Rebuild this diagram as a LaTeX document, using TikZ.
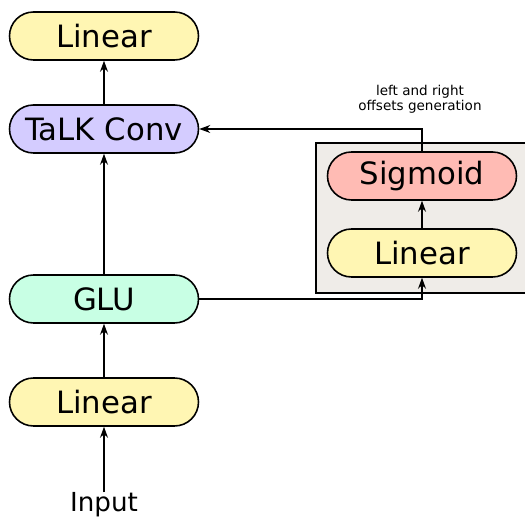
\documentclass[tikz,border=0pt]{standalone}
\usepackage{fontspec}
\setmainfont{DejaVu Sans}
\usetikzlibrary{arrows.meta,shapes.misc}
\definecolor{linyellow}{RGB}{255,246,179}
\definecolor{convpurple}{RGB}{212,204,255}
\definecolor{glugreen}{RGB}{200,255,228}
\definecolor{sigpink}{RGB}{255,187,180}
\definecolor{boxgray}{RGB}{239,236,232}

\begin{document}
\begin{tikzpicture}[every node/.style={inner sep=0pt},
    layer/.style={draw=black,line width=0.9pt,rounded rectangle,minimum width=3.78cm,minimum height=0.96cm,font=\fontsize{17.5}{20}\selectfont},
    flow/.style={line width=0.6pt,-{Stealth[length=2.2mm,width=1.6mm]}}]
            \useasboundingbox (0,0) rectangle (10.5,10.42);
            \fill[boxgray,draw=black,line width=0.6pt] (6.32,4.56) rectangle (10.6,7.56);

            \node[layer,fill=linyellow] (out) at (2.08,9.70) {Linear};
            \node[layer,fill=convpurple] (talk) at (2.08,7.84) {TaLK Conv};
            \node[layer,fill=glugreen] (glu) at (2.08,4.44) {GLU};
            \node[layer,fill=linyellow] (lin) at (2.08,2.38) {Linear};
            \node[font=\fontsize{14.9}{18}\selectfont] (in) at (2.08,0.32) {Input};
            \node[layer,fill=sigpink] (sig) at (8.44,6.90) {Sigmoid};
            \node[layer,fill=linyellow] (offlin) at (8.44,5.36) {Linear};
            \node[font=\fontsize{7.7}{8.5}\selectfont,align=center] (note) at (8.40,8.43) {left and right\\offsets generation};

            \coordinate (gluturn) at (8.44,4.44);
            \coordinate (sigturn) at (8.44,7.84);

            \path [flow] (in.north) edge (lin.south);
            \path [flow] (lin.north) edge (glu.south);
            \path [flow] (glu.north) edge (talk.south);
            \path [flow] (talk.north) edge (out.south);
            \path [flow] (offlin.north) edge (sig.south);
            \draw [flow] (glu.east) -- (gluturn) -- (offlin.south);
            \draw [flow] (sig.north) -- (sigturn) -- (talk.east);
        \end{tikzpicture}
\end{document}
